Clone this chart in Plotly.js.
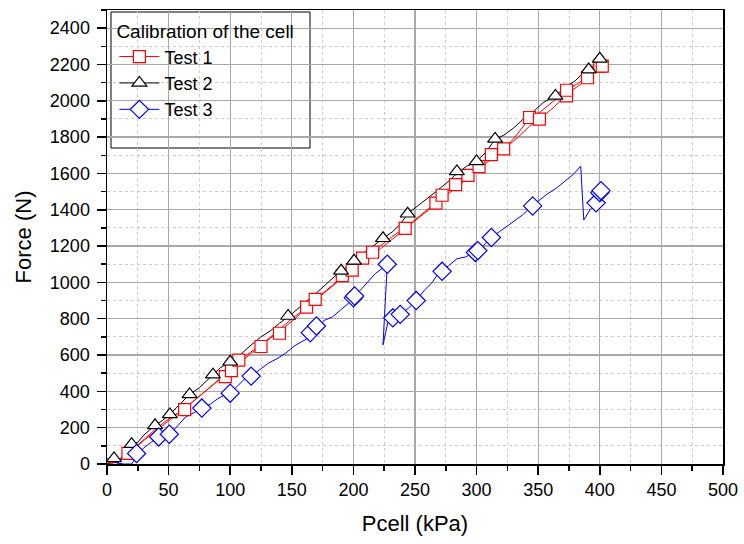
<!DOCTYPE html>
<html>
<head>
<meta charset="utf-8">
<script src="https://cdn.plot.ly/plotly-3.0.1.min.js"></script>
<style>html,body{margin:0;padding:0;background:#fff;}#chart{width:744px;height:544px;}</style>
</head>
<body>
<div id="chart"></div>
<script>
// ---- Data ----
const legendTitle = "Calibration of the cell";
const seriesNames = ["Test 1", "Test 2", "Test 3"];

// Test 1 (red, squares): loading then unloading path
const t1P = [0, 5, 10, 17, 24, 32, 40, 48, 56, 63, 70, 78, 86, 96, 101, 108, 116, 125, 132, 140, 148, 155, 162, 169, 176, 184, 191, 199, 207, 216, 224, 232, 242, 250, 258, 267, 272, 283, 293, 302, 312, 322, 330, 337, 343, 351, 358, 366, 373, 381, 390, 396, 400, 402,
             400, 390, 380, 372, 362, 351, 343, 333, 322, 312, 302, 293, 283, 272, 262, 252, 242, 232, 222, 215, 207, 198, 190, 180, 170, 160, 150, 140, 130, 120, 110, 100, 90, 80, 70, 60, 50, 40, 30, 20, 10, 0];
const t1F = [0, 5, 15, 58, 100, 150, 195, 238, 275, 305, 345, 390, 435, 490, 520, 575, 615, 655, 690, 728, 775, 815, 866, 908, 945, 990, 1040, 1075, 1135, 1170, 1215, 1255, 1300, 1345, 1390, 1440, 1482, 1540, 1592, 1640, 1705, 1740, 1790, 1850, 1905, 1935, 1975, 2020, 2058, 2090, 2130, 2165, 2195, 2205,
             2185, 2120, 2070, 2027, 1960, 1899, 1860, 1795, 1735, 1680, 1625, 1575, 1520, 1460, 1400, 1350, 1290, 1235, 1185, 1160, 1115, 1060, 1020, 960, 905, 850, 800, 740, 685, 625, 570, 510, 460, 400, 345, 290, 240, 185, 130, 70, 20, 0];
const t1mP = [17, 63, 96, 101, 107, 125, 140, 162, 169, 191, 199, 207.5, 215.6, 242, 267, 272, 283, 293, 302, 312, 322, 343, 351, 373, 373, 390, 400, 402];
const t1mF = [58, 299, 481, 514, 572, 647, 720, 864, 906, 1037, 1068, 1134, 1166, 1297, 1437, 1480, 1538, 1589, 1638, 1704, 1735, 1908, 1899, 2027, 2058, 2127, 2191, 2191];

// Test 2 (black, triangles)
const t2P = [0, 3, 6, 9, 12, 16, 20, 25, 30, 39, 45, 51, 58, 67, 75, 86, 92, 100, 108, 116, 125, 133, 140, 148, 156, 165, 173, 181, 190, 196, 201, 208, 216, 224, 232, 238, 244, 252, 260, 268, 276, 284, 292, 300, 308, 315, 322, 330, 338, 346, 354, 364, 372, 380, 386, 391, 396, 400];
const t2F = [0, 15, 31, 5, 40, 70, 109, 120, 160, 213, 240, 273, 320, 383, 420, 492, 530, 563, 600, 650, 700, 735, 775, 815, 860, 910, 960, 1010, 1064, 1090, 1119, 1160, 1200, 1243, 1280, 1320, 1378, 1420, 1460, 1505, 1550, 1600, 1640, 1666, 1720, 1790, 1810, 1850, 1900, 1940, 1990, 2027, 2075, 2110, 2150, 2172, 2200, 2240];
const t2mP = [5.7, 20, 39, 51, 67, 86, 100, 147, 190, 200.5, 224, 244, 284, 300, 315, 364, 391, 400];
const t2mF = [31, 109, 213, 273, 383, 492, 563, 815, 1064, 1119, 1243, 1378, 1611, 1666, 1790, 2027, 2172, 2231];

// Test 3 (blue, diamonds)
const t3P = [0, 3, 8, 14, 20, 25, 30, 36, 42, 47, 51, 58, 64, 70, 77, 84, 90, 95, 100, 106, 112, 117, 124, 131, 138, 145, 152, 158, 165, 170, 176, 183, 190, 196, 200, 206, 212, 218, 224, 227.5, 224, 228, 232, 238, 245, 251, 258, 264, 270, 277, 284, 291, 298, 305, 312, 320, 330, 337, 345, 352, 358, 365, 372, 379, 384.5, 387, 392, 397, 401];
const t3F = [30, 20, 5, 0, 0, 55, 90, 120, 149, 155, 164, 215, 260, 280, 308, 330, 360, 378, 390, 430, 470, 484, 520, 555, 580, 610, 650, 672, 700, 723, 790, 810, 850, 885, 915, 960, 1010, 1050, 1080, 1100, 656, 780, 805, 824, 860, 900, 960, 1000, 1061, 1090, 1130, 1140, 1165, 1200, 1247, 1285, 1334, 1370, 1421, 1460, 1490, 1520, 1560, 1598, 1640, 1343, 1400, 1438, 1494];
const t3mP = [24, 42, 50.6, 77, 100, 117, 165, 170, 200, 201, 227.5, 232, 238, 251, 272, 299, 301, 312, 345.5, 397, 400, 401];
const t3mF = [58, 149, 164, 308, 390, 484, 723, 760, 915, 925, 1100, 805, 824, 900, 1061, 1165, 1175, 1247, 1421, 1438, 1494, 1505];

const xTitle = "Pcell (kPa)";
const yTitle = "Force (N)";

// ---- Chart ----
const colors = ["#ff0000", "#000000", "#0000ff"];
const symbols = ["square", "triangle-up", "diamond"];
const msize = [12, 13, 14];
const lines = [[t1P, t1F], [t2P, t2F], [t3P, t3F]];
const marks = [[t1mP, t1mF], [t2mP, t2mF], [t3mP, t3mF]];

const traces = [];
for (let i = 0; i < 3; i++) {
  traces.push({
    x: lines[i][0], y: lines[i][1], type: "scatter", mode: "lines",
    line: {color: colors[i], width: 1}, showlegend: false, hoverinfo: "skip"
  });
}
for (let i = 0; i < 3; i++) {
  traces.push({
    x: marks[i][0], y: marks[i][1], type: "scatter", mode: "markers",
    marker: {symbol: symbols[i], size: msize[i], color: "rgba(255,255,255,1)", line: {color: colors[i], width: 1.2}},
    showlegend: false
  });
}
for (let i = 0; i < 3; i++) {
  traces.push({
    x: [null], y: [null], type: "scatter", mode: "lines+markers", name: seriesNames[i],
    line: {color: colors[i], width: 1},
    marker: {symbol: symbols[i], size: msize[i], color: "rgba(255,255,255,1)", line: {color: colors[i], width: 1.2}}
  });
}

const font = "Liberation Sans, Arial, sans-serif";
const axisCommon = {
  showline: true, linecolor: "#000", linewidth: 1.5, mirror: true,
  ticks: "outside", ticklen: 9, tickwidth: 1.5, tickcolor: "#000",
  showgrid: true, gridcolor: "#a8a8a8", gridwidth: 1.3,
  zeroline: false,
  tickfont: {family: font, size: 18, color: "#000"}
};

const layout = {
  width: 744, height: 544,
  margin: {l: 107, r: 21, t: 10, b: 80},
  paper_bgcolor: "#fff", plot_bgcolor: "#fff",
  font: {family: font, color: "#000"},
  xaxis: Object.assign({}, axisCommon, {
    range: [0, 500], dtick: 50, tick0: 0,
    minor: {dtick: 25, showgrid: true, gridcolor: "#cccccc", griddash: "dot", gridwidth: 1, ticks: "outside", ticklen: 5, tickcolor: "#000", tickwidth: 1.5},
    title: {text: xTitle, font: {family: font, size: 22, color: "#000"}, standoff: 16}
  }),
  yaxis: Object.assign({}, axisCommon, {
    range: [0, 2500], dtick: 200, tick0: 0,
    ticklabelstandoff: 3,
    minor: {dtick: 100, showgrid: true, gridcolor: "#cccccc", griddash: "dot", gridwidth: 1, ticks: "outside", ticklen: 5, tickcolor: "#000", tickwidth: 1.5},
    title: {text: yTitle, font: {family: font, size: 22, color: "#000"}, standoff: 12}
  }),
  legend: {
    x: 0.012, y: 0.992, xanchor: "left", yanchor: "top",
    bgcolor: "rgba(0,0,0,0)", borderwidth: 0,
    font: {family: font, size: 18, color: "#000"},
    title: {text: legendTitle, font: {family: font, size: 19, color: "#000"}},
    tracegroupgap: 0, itemwidth: 40
  },
  shapes: [{
    type: "rect", xref: "paper", yref: "paper",
    x0: 4 / 616, x1: 203 / 616, y0: (464 - 148) / 454, y1: (464 - 12) / 454,
    line: {color: "#000", width: 1}, fillcolor: "#fff", layer: "below"
  }]
};

Plotly.newPlot("chart", traces, layout, {displayModeBar: false, staticPlot: true});
</script>
</body>
</html>
